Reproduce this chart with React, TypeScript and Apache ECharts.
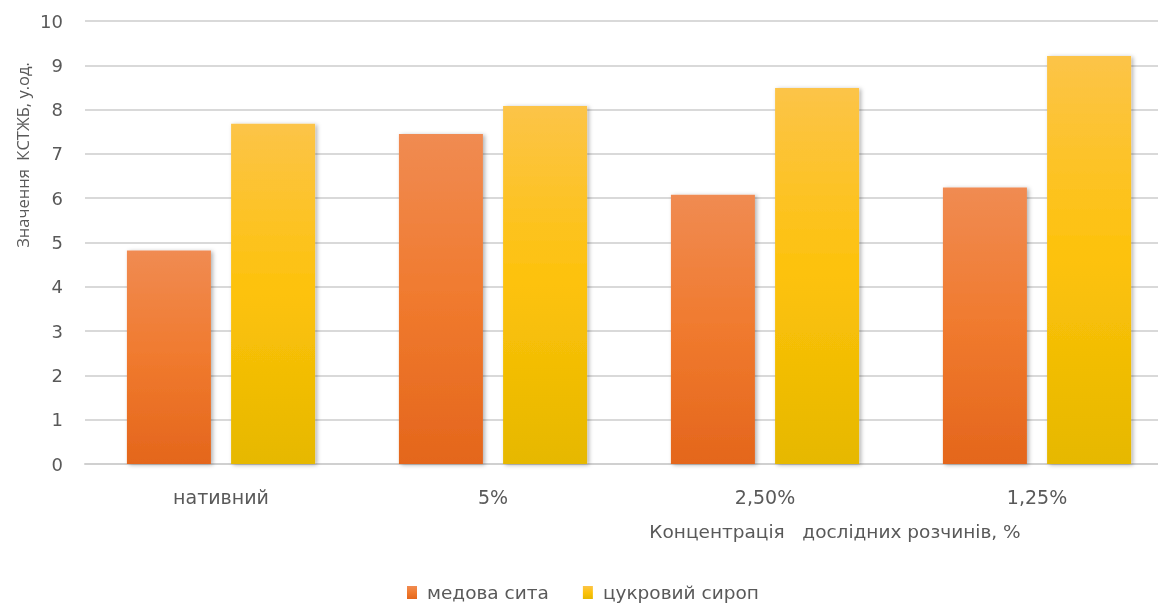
import React, { useEffect, useRef } from "react";
import * as echarts from "echarts";

const categories = ["нативний", "5%", "2,50%", "1,25%"];
const honeyValues = [4.82, 7.45, 6.08, 6.24];
const syrupValues = [7.68, 8.08, 8.49, 9.21];
const seriesNames = ["медова сита", "цукровий сироп"];
const yAxisTitle = "Значення  КСТЖБ, у.од.";
const xAxisTitle = "Концентрація   дослідних розчинів, %";

const FONT = "'DejaVu Sans', sans-serif";
const TEXT = "#595959";

export default function App() {
  const ref = useRef<HTMLDivElement>(null);
  useEffect(() => {
    if (!ref.current) return;
    const chart = echarts.init(ref.current, undefined, { renderer: "svg" });
    const orange = new echarts.graphic.LinearGradient(0, 0, 0, 1, [
      { offset: 0, color: "#F08B52" },
      { offset: 0.5, color: "#F07A2E" },
      { offset: 1, color: "#E4661C" },
    ]);
    const yellow = new echarts.graphic.LinearGradient(0, 0, 0, 1, [
      { offset: 0, color: "#FCC448" },
      { offset: 0.5, color: "#FDC20A" },
      { offset: 1, color: "#E6B800" },
    ]);
    chart.setOption({
      animation: false,
      textStyle: { fontFamily: FONT },
      grid: { left: 85, right: 0, top: 21, bottom: 143, containLabel: false },
      legend: {
        top: 583,
        left: 407,
        padding: 0,
        itemWidth: 10,
        itemHeight: 13,
        itemGap: 34,
        icon: "rect",
        textStyle: { color: TEXT, fontSize: 18.5, fontFamily: FONT, padding: [0, 0, 0, 5] },
        data: seriesNames,
      },
      xAxis: {
        type: "category",
        data: categories,
        axisTick: { show: false },
        axisLine: { lineStyle: { color: "#D0D0D0", width: 2 } },
        axisLabel: { color: TEXT, fontSize: 19, margin: 23, fontFamily: FONT },
      },
      yAxis: {
        type: "value",
        min: 0,
        max: 10,
        interval: 1,
        axisLine: { show: false },
        axisTick: { show: false },
        axisLabel: { color: TEXT, fontSize: 18, margin: 22, fontFamily: FONT },
        splitLine: { lineStyle: { color: "#D9D9D9", width: 2 } },
      },
      graphic: [
        {
          type: "text",
          x: 22,
          y: 155,
          rotation: Math.PI / 2,
          style: {
            text: yAxisTitle,
            fill: TEXT,
            font: `16.5px 'Open Sans', sans-serif`,
            textAlign: "center",
            textVerticalAlign: "middle",
          },
        },
        {
          type: "text",
          x: 835,
          y: 531,
          style: {
            text: xAxisTitle,
            fill: TEXT,
            font: `18.5px ${FONT}`,
            textAlign: "center",
            textVerticalAlign: "middle",
          },
        },
      ],
      series: [
        {
          name: seriesNames[0],
          type: "bar",
          data: honeyValues,
          barWidth: 84,
          barGap: "24%",
          itemStyle: {
            color: orange,
            shadowBlur: 4,
            shadowOffsetX: 2,
            shadowOffsetY: 1,
            shadowColor: "rgba(0,0,0,0.3)",
          },
        },
        {
          name: seriesNames[1],
          type: "bar",
          data: syrupValues,
          barWidth: 84,
          itemStyle: {
            color: yellow,
            shadowBlur: 4,
            shadowOffsetX: 2,
            shadowOffsetY: 1,
            shadowColor: "rgba(0,0,0,0.3)",
          },
        },
      ],
    });
    return () => chart.dispose();
  }, []);
  return (
    <div
      ref={ref}
      style={{ position: "fixed", left: 0, top: 0, width: 1173, height: 607 }}
    />
  );
}
